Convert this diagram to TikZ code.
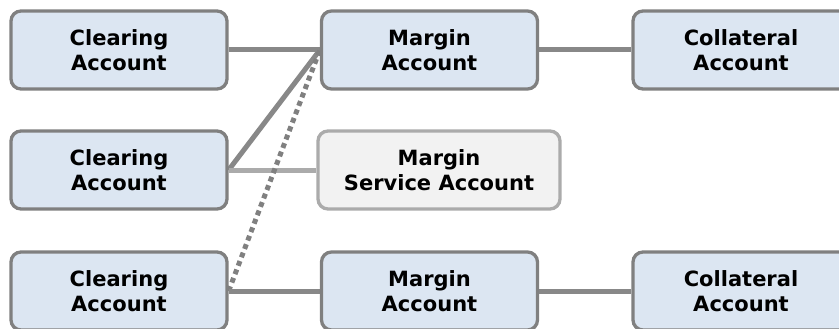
\documentclass[tikz,border=0pt]{standalone}
\usepackage{fontspec}
\setmainfont{DejaVu Sans}
\usetikzlibrary{backgrounds}
\definecolor{boxfill}{HTML}{DCE6F2}
\definecolor{boxline}{HTML}{808080}
\definecolor{svcfill}{HTML}{F2F2F2}
\definecolor{svcline}{HTML}{ABABAB}
\definecolor{link}{HTML}{888888}
\tikzset{
  x=1pt, y=-1pt,
  acct/.style={draw=boxline, fill=boxfill, line width=3.3pt, rounded corners=10pt,
    minimum width=216pt, minimum height=78pt, align=center, inner sep=0pt,
    font=\fontsize{21}{25}\selectfont\bfseries},
  svc/.style={acct, draw=svcline, fill=svcfill, minimum width=242pt},
  wire/.style={draw=link, line width=5pt},
  softwire/.style={draw=svcline, line width=5pt},
  dotwire/.style={draw=boxline, line width=5pt, dash pattern=on 5pt off 4pt}
}
\begin{document}
\begin{tikzpicture}
\useasboundingbox (0,0) rectangle (839,329);
\clip (0,0) rectangle (839,329);
% account boxes
\node[acct] (c1) at (119,50) {Clearing\\Account};
\node[acct] (m1) at (429.5,50) {Margin\\Account};
\node[acct] (k1) at (741,50) {Collateral\\Account};
\node[acct] (c2) at (119,170) {Clearing\\Account};
\node[svc]  (s2) at (439,170) {Margin\\Service Account};
\node[acct] (c3) at (119,291) {Clearing\\Account};
\node[acct] (m3) at (429.5,291) {Margin\\Account};
\node[acct] (k3) at (741,291) {Collateral\\Account};
% connectors behind the boxes
\begin{scope}[on background layer]
\draw[wire] (c1.east) -- (m1.west);
\draw[wire] (m1.east) -- (k1.west);
\draw[wire] (c2.east) -- (m1.west);
\draw[softwire] (c2.east) -- (s2.west);
\draw[dotwire] (c3.east) -- (m1.west);
\draw[wire] (c3.east) -- (m3.west);
\draw[wire] (m3.east) -- (k3.west);
\end{scope}
\end{tikzpicture}
\end{document}
